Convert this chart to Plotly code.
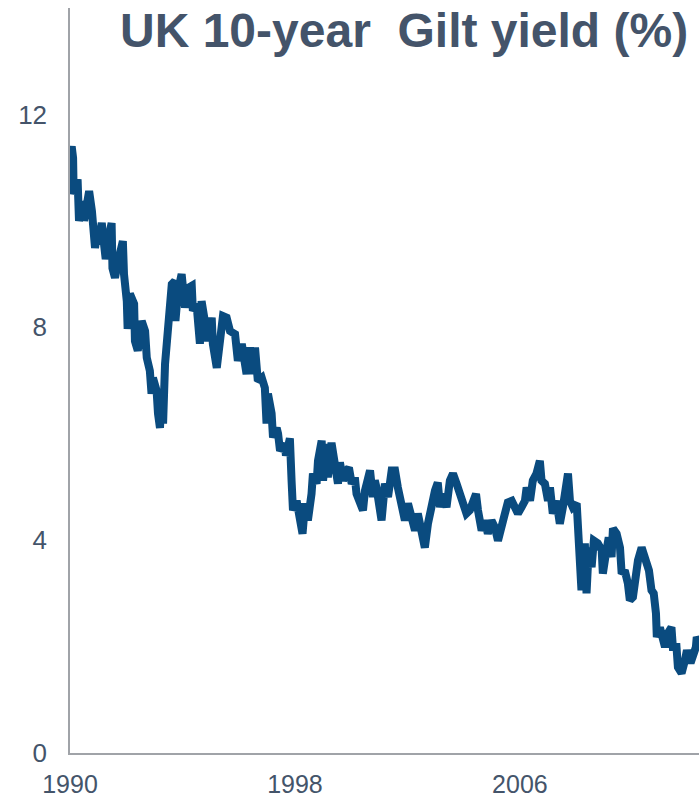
import plotly.graph_objects as go

# Time (decimal years) and UK 10-year gilt yield (%)
years = [
    1990.02, 1990.06, 1990.11, 1990.13, 1990.27, 1990.32, 1990.46, 1990.50, 1990.68, 1990.71, 1990.78, 1990.89, 1990.98,
    1991.00, 1991.13, 1991.17, 1991.27, 1991.35, 1991.48, 1991.51, 1991.60, 1991.71, 1991.88, 1991.92,
    1992.02, 1992.05, 1992.13, 1992.28, 1992.31, 1992.41, 1992.55, 1992.67, 1992.73, 1992.84, 1992.90, 1992.95,
    1993.08, 1993.13, 1993.20, 1993.26, 1993.31, 1993.38, 1993.44, 1993.56, 1993.62, 1993.73, 1993.75, 1993.84, 1993.97,
    1994.09, 1994.20, 1994.33, 1994.37, 1994.50, 1994.62, 1994.68, 1994.80, 1994.91,
    1995.04, 1995.08, 1995.22, 1995.33, 1995.44, 1995.57, 1995.69, 1995.87, 1995.97,
    1996.11, 1996.28, 1996.40, 1996.51, 1996.58, 1996.68, 1996.82, 1996.93, 1996.99,
    1997.04, 1997.17, 1997.22, 1997.35, 1997.40, 1997.47, 1997.64, 1997.68, 1997.82, 1997.88, 1997.93,
    1998.06, 1998.18, 1998.27, 1998.36, 1998.46, 1998.59, 1998.64, 1998.77, 1998.82, 1998.95,
    1999.00, 1999.13, 1999.17, 1999.30, 1999.42, 1999.53, 1999.60, 1999.71, 1999.84, 1999.92,
    2000.02, 2000.13, 2000.19, 2000.31, 2000.42, 2000.49, 2000.59, 2000.67, 2000.77, 2000.84, 2000.90, 2000.95,
    2001.02, 2001.08, 2001.20, 2001.31, 2001.44, 2001.56, 2001.66, 2001.79, 2001.91,
    2002.02, 2002.15, 2002.27, 2002.37, 2002.50, 2002.62, 2002.73, 2002.86, 2002.98,
    2003.08, 2003.16, 2003.26, 2003.39, 2003.51, 2003.62, 2003.75, 2003.87, 2003.97,
    2004.10, 2004.22, 2004.33, 2004.44, 2004.51, 2004.64, 2004.76, 2004.86, 2004.99,
    2005.11, 2005.22, 2005.35, 2005.47, 2005.57, 2005.71, 2005.82, 2005.93,
    2006.06, 2006.18, 2006.24, 2006.36, 2006.46, 2006.59, 2006.71, 2006.77, 2006.89,
    2007.00, 2007.07, 2007.17, 2007.30, 2007.42, 2007.53, 2007.64, 2007.71, 2007.78, 2007.88,
    2008.02, 2008.06, 2008.13, 2008.19, 2008.31, 2008.37, 2008.45, 2008.55, 2008.63, 2008.77, 2008.91, 2008.95,
    2009.06, 2009.16, 2009.26, 2009.31, 2009.44, 2009.56, 2009.62, 2009.73, 2009.84, 2009.91,
    2010.02, 2010.09, 2010.20, 2010.33, 2010.41, 2010.50, 2010.59, 2010.68, 2010.76, 2010.84, 2010.87, 2010.98,
    2011.07, 2011.16, 2011.26, 2011.39, 2011.44, 2011.57, 2011.62, 2011.75, 2011.87, 2011.94,
    2012.07, 2012.15, 2012.26, 2012.29, 2012.36,
]

yields = [
    11.30, 11.40, 11.18, 10.50, 10.78, 10.00, 10.37, 10.00, 10.56, 10.24, 10.18, 9.49, 9.86,
    9.56, 9.96, 9.75, 9.28, 9.62, 9.96, 9.11, 8.93, 9.24, 9.62, 9.00,
    8.49, 7.97, 8.63, 8.44, 7.74, 7.56, 8.12, 7.93, 7.43, 7.18, 6.75, 7.05,
    6.81, 6.38, 6.11, 6.75, 6.19, 7.31, 7.69, 8.18, 8.81, 8.87, 8.12, 8.68, 9.00,
    8.37, 8.74, 8.78, 8.31, 8.44, 7.69, 8.49, 7.99, 7.74,
    8.18, 7.69, 7.24, 7.69, 8.21, 8.18, 7.93, 7.87, 7.37,
    7.69, 7.12, 7.62, 7.12, 7.62, 6.99, 7.05, 6.86, 6.19,
    6.75, 6.38, 5.93, 6.11, 6.00, 5.68, 5.81, 5.59, 5.91, 5.12, 4.56,
    4.74, 4.43, 4.12, 4.69, 4.37, 4.87, 5.25, 5.06, 5.49, 5.87,
    5.12, 5.81, 5.18, 5.83, 5.49, 5.06, 5.46, 5.12, 5.31, 5.36,
    5.06, 5.18, 4.87, 4.74, 4.56, 4.93, 5.25, 5.31, 4.81, 5.12, 4.99, 4.81,
    4.74, 4.37, 5.06, 4.81, 5.31, 5.31, 4.99, 4.62, 4.37,
    4.69, 4.43, 4.18, 4.50, 4.05, 3.86, 4.31, 4.74, 4.93,
    5.08, 4.62, 4.87, 4.62, 5.12, 5.25, 5.06, 4.87, 4.81,
    4.50, 4.56, 4.69, 4.87, 4.56, 4.18, 4.37, 4.12, 4.37,
    4.24, 3.99, 4.31, 4.56, 4.71, 4.74, 4.62, 4.50,
    4.62, 4.74, 4.99, 4.74, 5.12, 5.25, 5.49, 5.12, 5.06,
    4.74, 4.99, 4.50, 4.74, 4.31, 4.62, 5.06, 5.25, 4.74, 4.62,
    4.69, 4.18, 3.49, 3.06, 3.94, 3.00, 3.86, 3.49, 3.99, 3.94, 3.81, 3.37,
    3.75, 4.05, 3.68, 4.22, 4.12, 3.86, 3.37, 3.43, 3.19, 2.87,
    2.93, 3.30, 3.62, 3.86, 3.75, 3.56, 3.43, 3.06, 3.00, 2.62, 2.18, 2.36,
    2.12, 1.99, 2.25, 2.36, 1.99, 1.99, 1.61, 1.50, 1.74, 1.93,
    1.69, 1.80, 1.99, 2.18, 2.10,
]

x_tick_vals = [1990, 1998, 2006]
x_tick_text = ["1990", "1998", "2006"]
y_tick_vals = [0, 4, 8, 12]
title_text = "UK 10-year  Gilt yield (%)"

LINE = "#0a4b7f"
TEXT = "#44546a"
AXIS = "#a0a3a8"
FONT = "Liberation Sans, Arial, sans-serif"

fig = go.Figure()
fig.add_trace(go.Scatter(
    x=years, y=yields, mode="lines",
    line=dict(color=LINE, width=8),
    hoverinfo="skip", showlegend=False,
))

fig.update_layout(
    width=699, height=797,
    margin=dict(l=70, r=0, t=8, b=44, autoexpand=False),
    paper_bgcolor="white", plot_bgcolor="white",
    font=dict(family=FONT, color=TEXT, size=25),
    xaxis=dict(
        range=[1990, 2012.37],
        tickvals=x_tick_vals, ticktext=x_tick_text,
        showgrid=False, zeroline=False, automargin=False,
        showline=True, linecolor=AXIS, linewidth=1.5,
        ticks="outside", ticklen=8, tickcolor="rgba(0,0,0,0)",
        tickfont=dict(size=25, color=TEXT, family=FONT),
    ),
    yaxis=dict(
        range=[0, 14],
        tickvals=y_tick_vals,
        showgrid=False, zeroline=False, automargin=False,
        showline=True, linecolor=AXIS, linewidth=1.5,
        ticks="outside", ticklen=16, tickcolor="rgba(0,0,0,0)",
        tickfont=dict(size=26, color=TEXT, family=FONT),
    ),
    annotations=[dict(
        text=title_text, xref="paper", yref="paper",
        x=1, y=1, xanchor="right", yanchor="top",
        xshift=-9, yshift=6,
        showarrow=False,
        font=dict(size=48, color=TEXT, family=FONT, weight="bold"),
    )],
)

fig.write_html("out.html")
